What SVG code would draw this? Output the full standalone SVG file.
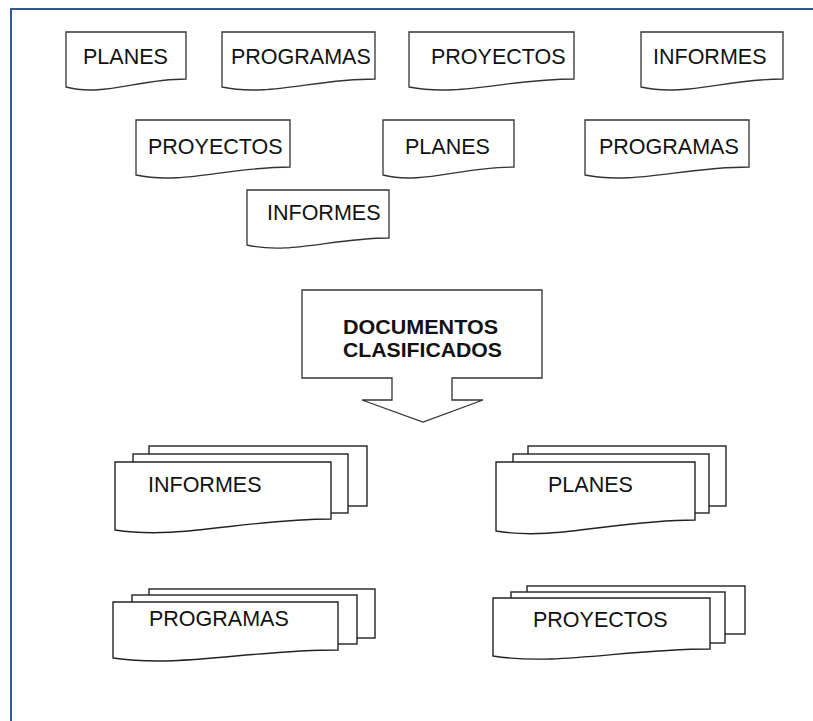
<svg xmlns="http://www.w3.org/2000/svg" width="813" height="721" viewBox="0 0 813 721">
<style>
.doc{fill:#fff;stroke:#333;stroke-width:1.3}
.pg{fill:#fff;stroke:#222;stroke-width:1.4}
.lbl{font-family:"Liberation Sans",Arial,sans-serif;font-size:21.5px;fill:#111}
.bold{font-family:"Liberation Sans",Arial,sans-serif;font-size:20.5px;font-weight:bold;fill:#111}
</style>
<rect x="11" y="9" width="830" height="730" fill="#fff" stroke="#2e5a94" stroke-width="2"/>
<g id="planes1"><path class="doc" d="M66,32 H186 V79 C138,79 102,97 66,87 Z"/><text class="lbl" x="83" y="64">PLANES</text></g>
<g id="programas1"><path class="doc" d="M222,32 H375 V79 C314,79 268,97 222,87 Z"/><text class="lbl" x="231" y="64">PROGRAMAS</text></g>
<g id="proyectos1"><path class="doc" d="M409,32 H574 V79 C508,79 459,97 409,87 Z"/><text class="lbl" x="431" y="64">PROYECTOS</text></g>
<g id="informes1"><path class="doc" d="M641,32 H783 V79 C726,79 684,97 641,87 Z"/><text class="lbl" x="653" y="64">INFORMES</text></g>
<g id="proyectos2"><path class="doc" d="M136,120 H290 V167 C228,167 182,185 136,175 Z"/><text class="lbl" x="148" y="154">PROYECTOS</text></g>
<g id="planes2"><path class="doc" d="M383,120 H514 V167 C461,167 421,185 383,175 Z"/><text class="lbl" x="405" y="154">PLANES</text></g>
<g id="programas2"><path class="doc" d="M585,120 H749 V167 C683,167 634,185 585,175 Z"/><text class="lbl" x="599" y="154">PROGRAMAS</text></g>
<g id="informes2"><path class="doc" d="M247,190 H389 V238 C332,238 290,255 247,245 Z"/><text class="lbl" x="267" y="220">INFORMES</text></g>
<g id="clasificados"><path class="doc" d="M302,290 H542 V378 H452 V400 H483 L423,422 L362,400 H392 V378 H302 Z"/><text class="bold" x="343" y="334" textLength="155" lengthAdjust="spacingAndGlyphs">DOCUMENTOS</text><text class="bold" x="343" y="357" textLength="159" lengthAdjust="spacingAndGlyphs">CLASIFICADOS</text></g>
<g id="stack-informes"><rect class="pg" x="149" y="446" width="218" height="60"/><rect class="pg" x="133" y="454" width="215" height="59"/><path class="pg" d="M115,462 H331 V519 C245,519 180,540 115,530 Z"/><text class="lbl" x="148" y="492">INFORMES</text></g>
<g id="stack-planes"><rect class="pg" x="528" y="446" width="198" height="60"/><rect class="pg" x="513" y="454" width="196" height="59"/><path class="pg" d="M496,462 H695 V520 C615,520 556,541 496,531 Z"/><text class="lbl" x="548" y="492">PLANES</text></g>
<g id="stack-programas"><rect class="pg" x="149" y="589" width="226" height="49"/><rect class="pg" x="132" y="595" width="225" height="49"/><path class="pg" d="M113,602 H338 V650 C248,650 181,668 113,658 Z"/><text class="lbl" x="149" y="626">PROGRAMAS</text></g>
<g id="stack-proyectos"><rect class="pg" x="527" y="586" width="218" height="48"/><rect class="pg" x="511" y="592" width="214" height="51"/><path class="pg" d="M493,598 H710 V649 C623,649 558,666 493,656 Z"/><text class="lbl" x="533" y="627">PROYECTOS</text></g>
<g id="connectors"/>
</svg>
